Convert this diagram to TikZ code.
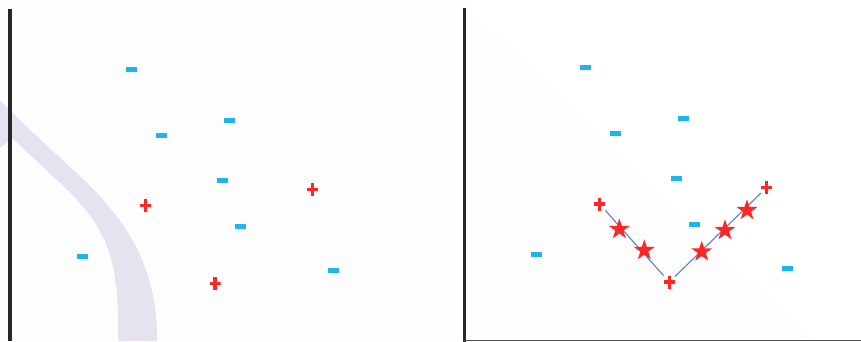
\documentclass[tikz,border=0pt]{standalone}
\usetikzlibrary{shapes.geometric,calc}
\definecolor{ink}{HTML}{282828}
\definecolor{rule}{HTML}{505050}
\definecolor{sky}{HTML}{1EB4EC}
\definecolor{scarlet}{HTML}{FF2626}
\definecolor{steel}{HTML}{5A7FC8}
\definecolor{lavender}{HTML}{E7E2EF}
\definecolor{paper}{HTML}{FDFDFD}

\tikzset{
  negmark/.style={rectangle,fill=sky,minimum width=11pt,minimum height=4.7pt,inner sep=0pt},
  posmark/.style={rectangle,minimum width=11pt,minimum height=13pt,inner sep=0pt,
    path picture={
      \fill[scarlet] ($(path picture bounding box.north)+(-1.7pt,0pt)$)
        rectangle ($(path picture bounding box.south)+(1.7pt,0pt)$);
      \fill[scarlet] ($(path picture bounding box.west)+(0pt,1.7pt)$)
        rectangle ($(path picture bounding box.east)+(0pt,-1.7pt)$);
    }},
  starmark/.style={star,star points=5,star point ratio=2.6,fill=scarlet,
    minimum size=22pt,inner sep=0pt},
}

\begin{document}
\begin{tikzpicture}[x=1pt,y=-1pt]
  \useasboundingbox (0,0) rectangle (861,341);
  \fill[paper] (0,0) rectangle (861,341);
  \fill[white] (458,0) -- (861,0) -- (861,341) -- (810,341) -- cycle;

  % left panel: margin band
  \fill[lavender] (0,100) -- (12,113) -- (70,167)
    .. controls (120,212) and (158,260) .. (157,341)
    -- (118,341) .. controls (120,255) and (105,225) .. (60,183)
    -- (12,138) -- (0,148) -- cycle;
  \draw[ink,line width=3.6pt] (10,9.3) -- (10,341);
  \node[negmark] (an1) at (131.5,69.3) {};
  \node[negmark] (an2) at (229.5,120.3) {};
  \node[negmark] (an3) at (161.5,135.3) {};
  \node[negmark] (an4) at (222.5,180.3) {};
  \node[negmark] (an5) at (240.5,226.3) {};
  \node[negmark] (an6) at (82.5,256.3) {};
  \node[negmark] (an7) at (333.5,270.3) {};
  \node[posmark] (ap1) at (145.3,205.7) {};
  \node[posmark] (ap2) at (312.3,189.3) {};
  \node[posmark] (ap3) at (215,283.7) {};

  % right panel: same points, support vectors joined
  \begin{scope}[xshift=454.3pt,yshift=1.7pt]
    \draw[ink,line width=3.6pt] (10,9.3) -- (10,345);
    \node[negmark] (bn1) at (131.5,69.3) {};
    \node[negmark] (bn2) at (229.5,120.3) {};
    \node[negmark] (bn3) at (161.5,135.3) {};
    \node[negmark] (bn4) at (222.5,180.3) {};
    \node[negmark] (bn5) at (240.5,226.3) {};
    \node[negmark] (bn6) at (82.5,256.3) {};
    \node[negmark] (bn7) at (333.5,270.3) {};
    \node[posmark] (bp1) at (145.3,205.7) {};
    \node[posmark] (bp2) at (312.3,189.3) {};
    \node[posmark] (bp3) at (215,283.7) {};
    \draw[steel,line width=1.1pt] (bp1) -- (bp3);
    \draw[steel,line width=1.1pt] (bp3) -- (bp2);
    \node[starmark] (bs1) at (165,231) {};
    \node[starmark] (bs2) at (190,252) {};
    \node[starmark] (bs3) at (247.4,253.4) {};
    \node[starmark] (bs4) at (270.7,232) {};
    \node[starmark] (bs5) at (292.7,212) {};
  \end{scope}
  \draw[rule,line width=1.4pt] (462.5,340.3) -- (861,340.3);
\end{tikzpicture}
\end{document}
